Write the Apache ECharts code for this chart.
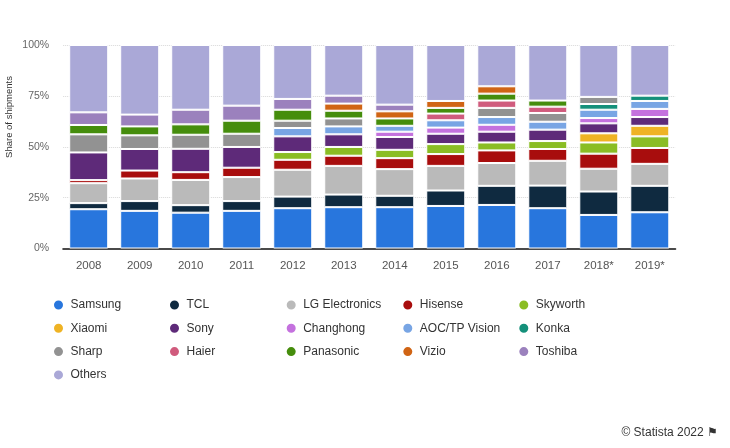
<!DOCTYPE html>
<html>
<head>
<meta charset="utf-8">
<script src="https://cdn.jsdelivr.net/npm/echarts@6/dist/echarts.min.js"></script>
<style>
    html, body { margin: 0; padding: 0; background: #fff; }
    #chart { width: 730px; height: 448px; }
</style>
</head>
<body>
<div id="chart"></div>
<script>
// years on the x axis
var years = ['2008', '2009', '2010', '2011', '2012', '2013', '2014', '2015', '2016', '2017', '2018*', '2019*'];

// share of shipments in % (null = brand not shown that year)
var samsung   = [19.3, 18.5, 17.6, 18.5, 19.8, 20.3, 20.3, 20.9, 21.4, 19.8, 16.5, 17.8];
var tcl       = [3.0, 4.8, 3.7, 4.8, 5.7, 6.2, 5.6, 7.6, 9.4, 11.1, 11.5, 13.0];
var lg        = [9.8, 11.1, 12.4, 11.8, 13.2, 14.1, 13.1, 12.1, 11.2, 12.2, 11.2, 10.8];
var hisense   = [1.5, 3.9, 3.8, 4.6, 4.9, 5.0, 5.4, 5.8, 6.2, 5.8, 7.4, 7.8];
var skyworth  = [null, null, null, null, 3.8, 4.3, 4.1, 4.9, 3.9, 3.9, 5.5, 5.7];
var xiaomi    = [null, null, null, null, null, null, null, null, null, null, 4.5, 5.2];
var sony      = [13.6, 10.6, 11.5, 10.2, 7.7, 6.2, 6.3, 5.1, 5.3, 5.6, 4.9, 4.3];
var changhong = [null, null, null, null, null, null, 2.6, 3.0, 3.4, null, 2.6, 4.0];
var aoc       = [null, null, null, null, 4.1, 3.9, 2.9, 3.6, 3.8, 3.9, 4.1, 3.9];
var konka     = [null, null, null, null, null, null, null, null, null, null, 2.8, 2.6];
var sharp     = [8.9, 6.7, 6.9, 6.5, 3.6, 3.9, null, null, 4.5, 4.3, 3.5, null];
var haier     = [null, null, null, null, null, null, null, 3.3, 3.6, 3.1, null, null];
var panasonic = [4.6, 4.4, 5.1, 6.4, 5.4, 3.8, 3.6, 2.8, 3.4, 3.0, null, null];
var vizio     = [null, null, null, null, null, 3.5, 3.5, 3.4, 3.6, null, null, null];
var toshiba   = [6.2, 5.8, 7.2, 7.4, 5.3, 3.9, 3.3, null, null, null, null, null];
var others    = [33.1, 34.2, 31.8, 29.8, 26.5, 24.9, 29.3, 27.5, 20.3, 27.3, 25.5, 24.9];

// y axis ticks
var yTicks = [0, 25, 50, 75, 100];

// stacking order, bottom to top
var brands = [
    { name: 'Samsung', data: samsung, color: '#2876dd' },
    { name: 'TCL', data: tcl, color: '#0f2a40' },
    { name: 'LG Electronics', data: lg, color: '#bababa' },
    { name: 'Hisense', data: hisense, color: '#a80d0d' },
    { name: 'Skyworth', data: skyworth, color: '#8abd24' },
    { name: 'Xiaomi', data: xiaomi, color: '#efb324' },
    { name: 'Sony', data: sony, color: '#5e2a79' },
    { name: 'Changhong', data: changhong, color: '#c471de' },
    { name: 'AOC/TP Vision', data: aoc, color: '#78a5e4' },
    { name: 'Konka', data: konka, color: '#14907a' },
    { name: 'Sharp', data: sharp, color: '#929292' },
    { name: 'Haier', data: haier, color: '#d05b7d' },
    { name: 'Panasonic', data: panasonic, color: '#458d0c' },
    { name: 'Vizio', data: vizio, color: '#d06414' },
    { name: 'Toshiba', data: toshiba, color: '#9b81bd' },
    { name: 'Others', data: others, color: '#aaa8d7' }
];

// legend columns as laid out in the picture
var legendCols = [
    ['Samsung', 'Xiaomi', 'Sharp', 'Others'],
    ['TCL', 'Sony', 'Haier'],
    ['LG Electronics', 'Changhong', 'Panasonic'],
    ['Hisense', 'AOC/TP Vision', 'Vizio'],
    ['Skyworth', 'Konka', 'Toshiba']
];
var legendLeft = [52, 168, 284.7, 401.3, 517.3];

var font = '"Liberation Sans", Arial, sans-serif';

var series = [];
for (var i = 0; i < brands.length; i++) {
    series.push({
        name: brands[i].name,
        type: 'bar',
        stack: 'share',
        barWidth: 39,
        data: brands[i].data,
        itemStyle: {
            color: brands[i].color,
            borderColor: '#fff',
            borderWidth: 1
        }
    });
}

var legends = [];
for (var c = 0; c < legendCols.length; c++) {
    legends.push({
        orient: 'vertical',
        left: legendLeft[c],
        top: 298,
        padding: 0,
        itemWidth: 14,
        itemHeight: 11,
        itemGap: 9.3,
        icon: 'circle',
        selectedMode: false,
        data: legendCols[c],
        textStyle: { fontFamily: font, fontSize: 12, color: '#333', lineHeight: 14 }
    });
}

var myChart = echarts.init(document.getElementById('chart'), null, { renderer: 'canvas' });

var option = {
    animation: false,
    backgroundColor: '#fff',
    color: brands.map(function (b) { return b.color; }),
    grid: {
        left: 63.2,
        right: 730 - 675.3,
        top: 45,
        bottom: 448 - 248.5,
        containLabel: false
    },
    legend: legends,
    xAxis: {
        type: 'category',
        data: years,
        axisTick: { show: false },
        axisLine: { lineStyle: { color: '#4a4a4a', width: 2 } },
        axisLabel: { fontFamily: font, fontSize: 11.5, color: '#555', margin: 11 }
    },
    yAxis: {
        type: 'value',
        min: yTicks[0],
        max: yTicks[yTicks.length - 1],
        interval: 25,
        axisLine: { show: false },
        axisTick: { show: false },
        axisLabel: { fontFamily: font, fontSize: 10.5, color: '#666', margin: 14, formatter: '{value}%' },
        splitLine: { lineStyle: { color: '#d8d8d8', type: 'dotted' } }
    },
    graphic: [
        {
            type: 'text',
            x: 9.5,
            y: 117,
            rotation: Math.PI / 2,
            style: {
                text: 'Share of shipments',
                fontFamily: font,
                fontSize: 9.5,
                fill: '#333',
                align: 'center',
                verticalAlign: 'middle'
            }
        },
        {
            type: 'text',
            right: 12,
            top: 427,
            style: {
                text: '© Statista 2022 ⚑',
                fontFamily: font,
                fontSize: 12,
                fill: '#333'
            }
        }
    ],
    series: series
};

myChart.setOption(option);
</script>
</body>
</html>
